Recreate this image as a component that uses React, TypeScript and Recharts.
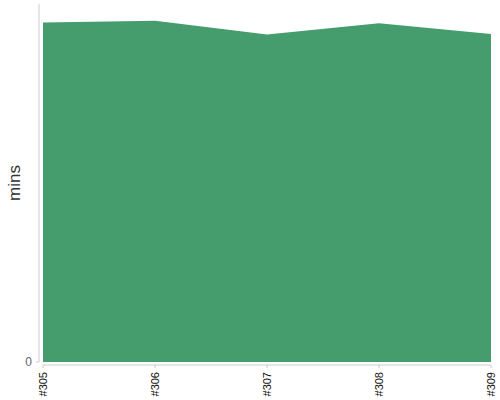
import React from 'react';
import { AreaChart, Area, XAxis, YAxis } from 'recharts';

const builds = ['#305', '#306', '#307', '#308', '#309'];
const minutes = [94.8, 95.3, 91.5, 94.6, 91.6];
const yTicks = [0];

const data = builds.map((b, i) => ({ build: b, mins: minutes[i] }));

const XTick = (props: any) => {
  const { x, y, payload } = props;
  return (
    <text
      x={x}
      y={y}
      transform={`rotate(-90, ${x}, ${y})`}
      textAnchor="end"
      dominantBaseline="central"
      fontSize={11}
      fontFamily="Liberation Sans, Arial, sans-serif"
      fill="#111"
    >
      {payload.value}
    </text>
  );
};

const YLabel = (props: any) => {
  const { viewBox } = props;
  const cx = viewBox.x + 14;
  const cy = viewBox.y + viewBox.height / 2;
  return (
    <text
      x={cx}
      y={cy}
      transform={`rotate(-90, ${cx}, ${cy})`}
      textAnchor="middle"
      dominantBaseline="central"
      fontSize={17}
      fontFamily="Liberation Sans, Arial, sans-serif"
      fill="#333"
    >
      mins
    </text>
  );
};

export default function App() {
  return (
    <div style={{ position: 'absolute', left: 0, top: 0 }}>
      <AreaChart
        width={500}
        height={400}
        data={data}
        margin={{ top: 4, right: 9, bottom: 0, left: 0 }}
      >
        <XAxis
          dataKey="build"
          height={38}
          interval={0}
          tickSize={3}
          tickMargin={7}
          axisLine={{ stroke: '#ccc', transform: 'translate(0,3)' } as any}
          tickLine={{ stroke: '#ccc', transform: 'translate(0,3)' } as any}
          tick={<XTick />}
        />
        <YAxis
          width={43}
          domain={[0, 100]}
          ticks={yTicks}
          tickSize={3}
          tickMargin={8}
          axisLine={{ stroke: '#ccc', transform: 'translate(-4,0)' } as any}
          tickLine={{ stroke: '#ccc', transform: 'translate(-4,0)' } as any}
          tick={{ fontSize: 12, fill: '#666', fontFamily: 'Liberation Sans, Arial, sans-serif' }}
          label={<YLabel />}
        />
        <Area
          type="linear"
          dataKey="mins"
          stroke="none"
          fill="#459c6c"
          fillOpacity={1}
          isAnimationActive={false}
        />
      </AreaChart>
    </div>
  );
}
